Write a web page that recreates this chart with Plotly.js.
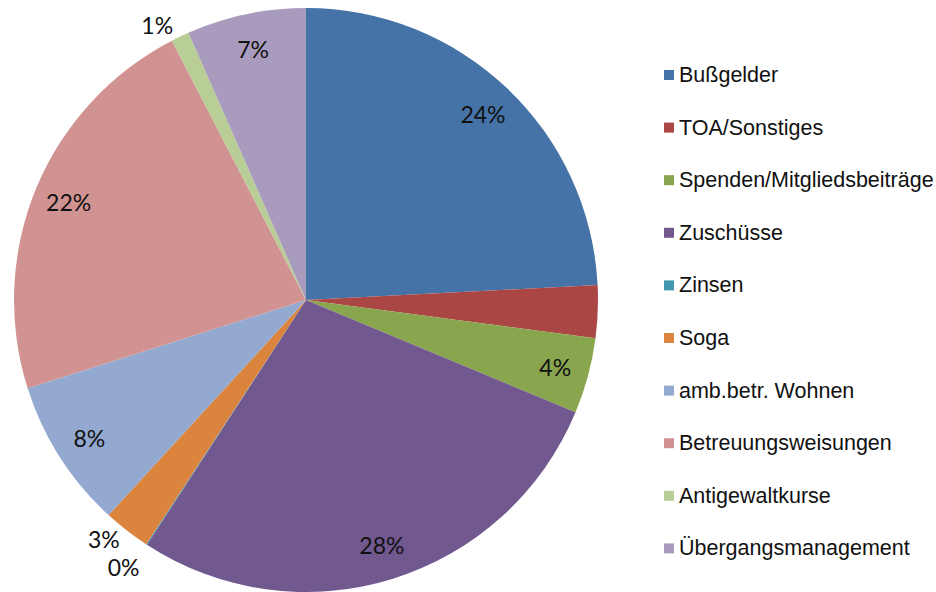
<!DOCTYPE html>
<html><head><meta charset="utf-8">
<script src="https://cdn.plot.ly/plotly-3.0.1.min.js"></script>
<style>html,body{margin:0;padding:0;background:#fff} path.textline{stroke-opacity:0 !important;}</style>
</head><body>
<div id="chart" style="width:936px;height:592px"></div>
<script>
const categories = ["Bußgelder","TOA/Sonstiges","Spenden/Mitgliedsbeiträge","Zuschüsse","Zinsen","Soga","amb.betr. Wohnen","Betreuungsweisungen","Antigewaltkurse","Übergangsmanagement"];
const values = [24.2, 2.9, 4.2, 27.9, 0.05, 2.6, 8.3, 22.3, 1.0, 6.6];
const colors = ["#4572A7","#AA4643","#89A54E","#71588F","#4198AF","#DB843D","#93A9CF","#D19392","#B9CD96","#A99BBD"];
const labelPositions = ["inside","none","inside","inside","outside","outside","inside","inside","outside","inside"];

const domain = {x: [14/936, 598/936], y: [0, 584/592]};
const pctFont = {family: "Lato, 'Open Sans', sans-serif", size: 23, color: "#111111"};

// coloured slices
const slices = {
  type: "pie", labels: categories, values: values, sort: false,
  direction: "clockwise", rotation: 0,
  marker: {colors: colors, line: {width: 0}},
  textinfo: "none", domain: domain, showlegend: false, hoverinfo: "label+percent"
};
// percentage labels placed in the outer ring (as the original chart does)
const labelsTrace = {
  type: "pie", labels: categories, values: values, sort: false,
  direction: "clockwise", rotation: 0, hole: 0.76,
  marker: {colors: categories.map(() => "rgba(0,0,0,0)"), line: {width: 0}},
  textposition: labelPositions, texttemplate: "%{percent:.0%}",
  insidetextorientation: "horizontal",
  textfont: pctFont, insidetextfont: pctFont, outsidetextfont: pctFont,
  domain: domain, showlegend: false, hoverinfo: "skip"
};

// legend built from the category/color arrays
const shapes = [];
const annotations = [];
const legTop = 75, legStep = 52.6;
categories.forEach((c, i) => {
  const yc = legTop + i * legStep;
  shapes.push({type: "rect", xref: "paper", yref: "paper",
    x0: 664/936, x1: 674/936, y0: 1 - (yc + 5)/592, y1: 1 - (yc - 5)/592,
    fillcolor: colors[i], line: {width: 0}});
  annotations.push({xref: "paper", yref: "paper", x: 677/936, y: 1 - yc/592,
    xanchor: "left", yanchor: "middle", showarrow: false, text: c,
    font: {family: "'Liberation Sans', Arial, sans-serif", size: 21.5, color: "#111"}});
});

const layout = {
  width: 936, height: 592,
  margin: {l: 0, r: 0, t: 0, b: 0},
  paper_bgcolor: "#ffffff",
  showlegend: false,
  shapes: shapes,
  annotations: annotations
};
Plotly.newPlot("chart", [slices, labelsTrace], layout, {displayModeBar: false, staticPlot: true});
</script>
</body></html>
